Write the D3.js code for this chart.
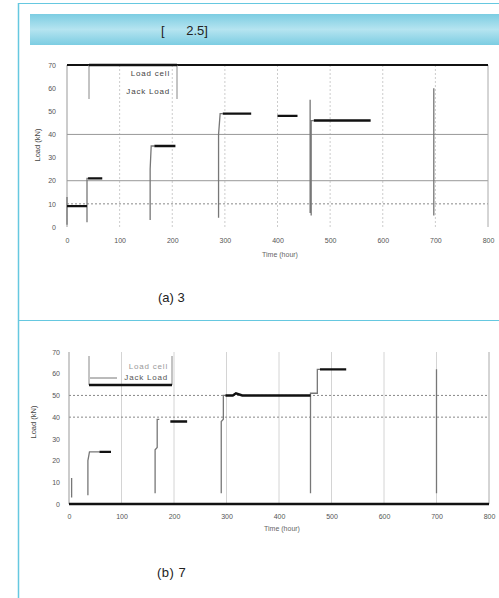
<!DOCTYPE html>
<html><head><meta charset="utf-8">
<script src="https://cdn.jsdelivr.net/npm/d3@7"></script>
<style>
html,body{margin:0;padding:0;background:#fff;}
svg{display:block;font-family:"Liberation Sans",Arial,sans-serif;}
</style></head>
<body>
<svg id="page" width="499" height="598"></svg>
<script>
// ---- data ----
const headerText = "[      2.5]";
const captionA = "(a) 3";
const captionB = "(b) 7";
const xTicks = [0,100,200,300,400,500,600,700,800];
const yTicks = [0,10,20,30,40,50,60,70];
const xTitle = "Time (hour)";
const yTitle = "Load (kN)";
const legendNames = ["Load cell","Jack Load"];

// chart (a): [time, load]; null breaks the line
const loadCellA = [[0,9],[38,9],null,[40,21],[67,21],null,[166,35],[206,35],null,
  [296,49],[350,49],null,[400,48],[438,48],null,[469,46],[577,46]];
const jackLoadA = [[0,1],[0,13],null,[38,2],[38,21],[40,21],null,[158,3],[158,25],[160,35],[166,35],null,
  [288,4],[288,40],[291,49],[296,49],null,[462,6],[462,55],null,[464,5],[464,46],[469,46],null,[697,5],[697,60]];
const refLinesA = [40,20];
const dottedLinesA = [10];

// chart (b)
const loadCellB = [[58,24],[80,24],null,[193,38],[225,38],null,[298,50],[312,50],[318,51],[330,50],[460,50],null,
  [478,62],[528,62]];
const jackLoadB = [[5,3],[5,12],null,[36,4],[36,20],[39,24],[58,24],null,[164,5],[164,25],[168,26],[168,39],[172,39],null,
  [290,5],[290,38],[294,39],[294,50],[298,50],null,[460,5],[460,51],[473,51],[473,62],[478,62],null,[700,62],[700,5]];
const dashedLinesB = [50,40];

// ---- page frame ----
const svg = d3.select("#page");
const cyan = "#66c8e0";
const defs = svg.append("defs");
const grad = defs.append("linearGradient").attr("id","hdr").attr("x1",0).attr("x2",0).attr("y1",0).attr("y2",1);
grad.append("stop").attr("offset","0%").attr("stop-color","#7ccde2");
grad.append("stop").attr("offset","50%").attr("stop-color","#b5e4f0");
grad.append("stop").attr("offset","100%").attr("stop-color","#7ccde2");

svg.append("line").attr("x1",19).attr("x2",499).attr("y1",3.5).attr("y2",3.5).attr("stroke",cyan).attr("stroke-width",1);
svg.append("line").attr("x1",18.5).attr("x2",18.5).attr("y1",3).attr("y2",598).attr("stroke",cyan).attr("stroke-width",1.5);
svg.append("line").attr("x1",19).attr("x2",499).attr("y1",320.5).attr("y2",320.5).attr("stroke",cyan).attr("stroke-width",1.2);
svg.append("rect").attr("x",30).attr("y",14).attr("width",469).attr("height",31).attr("fill","url(#hdr)");
svg.append("text").attr("x",161).attr("y",35).attr("font-size",13).attr("fill","#222")
  .attr("xml:space","preserve").style("white-space","pre").text(headerText);
svg.append("text").attr("x",158).attr("y",302).attr("font-size",13).attr("fill","#222").text(captionA);
svg.append("text").attr("x",157).attr("y",577).attr("font-size",13).attr("fill","#222").attr("letter-spacing","0.5").text(captionB);

function chart(opt){
  const g = svg.append("g");
  const x = d3.scaleLinear().domain([0,800]).range([opt.x0,opt.x1]);
  const y = d3.scaleLinear().domain([0,70]).range([opt.y0,opt.y1]);
  // vertical grid
  g.append("g").selectAll("line").data(xTicks.slice(1,-1)).join("line")
    .attr("x1",d=>x(d)).attr("x2",d=>x(d)).attr("y1",y(70)).attr("y2",y(0))
    .attr("stroke",opt.vgridColor).attr("stroke-width",1).attr("stroke-dasharray",opt.vgridDash||null);
  // horizontal reference lines
  (opt.solidRefs||[]).forEach(v=>g.append("line").attr("x1",x(0)).attr("x2",x(800)).attr("y1",y(v)).attr("y2",y(v))
    .attr("stroke","#999").attr("stroke-width",1));
  (opt.dashRefs||[]).forEach(v=>g.append("line").attr("x1",x(0)).attr("x2",x(800)).attr("y1",y(v)).attr("y2",y(v))
    .attr("stroke","#888").attr("stroke-width",1).attr("stroke-dasharray","2,2"));
  // frame
  g.append("line").attr("x1",x(0)).attr("x2",x(0)).attr("y1",y(70)).attr("y2",y(0)).attr("stroke","#999");
  g.append("line").attr("x1",x(800)).attr("x2",x(800)).attr("y1",y(70)).attr("y2",y(0)).attr("stroke","#aaa");
  if(opt.topThick) g.append("line").attr("x1",x(0)).attr("x2",x(800)).attr("y1",y(70)).attr("y2",y(70)).attr("stroke","#111").attr("stroke-width",2);
  if(opt.bottomThick) g.append("line").attr("x1",x(0)).attr("x2",x(800)).attr("y1",y(0)).attr("y2",y(0)).attr("stroke","#111").attr("stroke-width",2.5);
  // axes (labels only)
  const yAx = g.append("g").attr("transform",`translate(${x(0)},0)`)
    .call(d3.axisLeft(y).tickValues(yTicks).tickSize(0).tickPadding(opt.yPad));
  yAx.select(".domain").remove();
  yAx.selectAll("text").attr("font-size",7).attr("fill","#555").attr("font-family","Liberation Sans, Arial, sans-serif");
  const xAx = g.append("g").attr("transform",`translate(0,${y(0)})`)
    .call(d3.axisBottom(x).tickValues(xTicks).tickSize(0).tickPadding(opt.xPad));
  xAx.select(".domain").remove();
  xAx.selectAll("text").attr("font-size",7).attr("fill","#555").attr("font-family","Liberation Sans, Arial, sans-serif");
  // titles
  g.append("text").attr("x",opt.xtX).attr("y",opt.xtY).attr("text-anchor","middle").attr("font-size",7).attr("fill","#666").text(xTitle);
  g.append("text").attr("transform",`translate(${opt.ytX},${opt.ytY}) rotate(-90)`).attr("text-anchor","middle")
    .attr("font-size",7.5).attr("fill","#444").text(yTitle);
  // data
  const line = d3.line().defined(d=>d!==null).x(d=>x(d[0])).y(d=>y(d[1]));
  g.append("path").attr("d",line(opt.jack)).attr("fill","none").attr("stroke","#777").attr("stroke-width",1.3);
  g.append("path").attr("d",line(opt.cell)).attr("fill","none").attr("stroke","#111").attr("stroke-width",2.4);
  // legend
  const L = opt.leg;
  const lg = g.append("g");
  lg.append("line").attr("x1",L.x0).attr("x2",L.x0).attr("y1",L.y0).attr("y2",L.y1).attr("stroke","#888");
  lg.append("line").attr("x1",L.x1).attr("x2",L.x1).attr("y1",L.y0).attr("y2",L.y1).attr("stroke","#888");
  lg.append("line").attr("x1",L.x0).attr("x2",L.x1).attr("y1",L.thickY).attr("y2",L.thickY).attr("stroke","#111").attr("stroke-width",2.5);
  lg.selectAll("text").data(legendNames).join("text").attr("x",L.tx).attr("y",(d,i)=>L.ty[i])
    .attr("text-anchor","end").attr("letter-spacing",0.8)
    .attr("font-size",8).attr("fill",(d,i)=>L.tc[i]).text(d=>d);
  if(L.sample) lg.append("line").attr("x1",L.sample[0]).attr("x2",L.sample[1]).attr("y1",L.sample[2]).attr("y2",L.sample[2]).attr("stroke","#777");
}

chart({x0:67,x1:488,y0:227,y1:65,cell:loadCellA,jack:jackLoadA,solidRefs:refLinesA,dashRefs:dottedLinesA,
  vgridColor:"#ccc",vgridDash:"2,2",topThick:true,bottomThick:false,yPad:11,xPad:11,
  xtX:280,xtY:257,ytX:40,ytY:145,
  leg:{x0:89,x1:177,y0:65,y1:99,thickY:65,tx:170,ty:[76,94],tc:["#444","#444"],sample:null}});

chart({x0:69,x1:489,y0:504,y1:352,cell:loadCellB,jack:jackLoadB,solidRefs:[],dashRefs:dashedLinesB,
  vgridColor:"#d4d4d4",vgridDash:null,topThick:false,bottomThick:true,yPad:9,xPad:10,
  xtX:282,xtY:531,ytX:36,ytY:422,
  leg:{x0:89,x1:172,y0:356,y1:385,thickY:385,tx:168,ty:[369,380],tc:["#999","#555"],sample:[90,117,378]}});
</script>
</body></html>
